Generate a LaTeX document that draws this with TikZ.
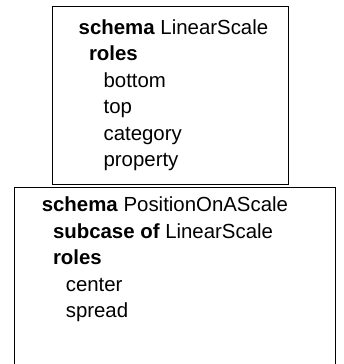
\documentclass[tikz,border=0pt]{standalone}
\usepackage{fontspec}
\setmainfont{Liberation Sans}
\begin{document}
\begin{tikzpicture}[x=1pt,y=-1pt,
  txt/.style={anchor=base west, inner sep=0pt, font=\fontsize{20.4}{25}\selectfont},
  box/.style={draw=black, line width=1pt}]
\clip (0,0) rectangle (344,364);
\fill[white] (0,0) rectangle (344,364);
\draw[box] (52,6.6) rectangle (288.7,184);
\draw[box] (14,187) rectangle (335,400);
\node[txt] (s1) at (78.5,34) {\textbf{schema} LinearScale};
\node[txt] (r1) at (88.8,60.6) {\textbf{roles}};
\node[txt] (b1) at (103.4,87.1) {bottom};
\node[txt] (t1) at (103.4,113.6) {top};
\node[txt] (c1) at (103.4,140.2) {category};
\node[txt] (p1) at (103.4,166.7) {property};
\node[txt] (s2) at (41.6,211.5) {\textbf{schema} PositionOnAScale};
\node[txt] (u2) at (52.8,238) {\textbf{subcase of} LinearScale};
\node[txt] (r2) at (52.8,264.6) {\textbf{roles}};
\node[txt] (c2) at (65.6,291.1) {center};
\node[txt] (p2) at (65.6,317.7) {spread};
\end{tikzpicture}
\end{document}
